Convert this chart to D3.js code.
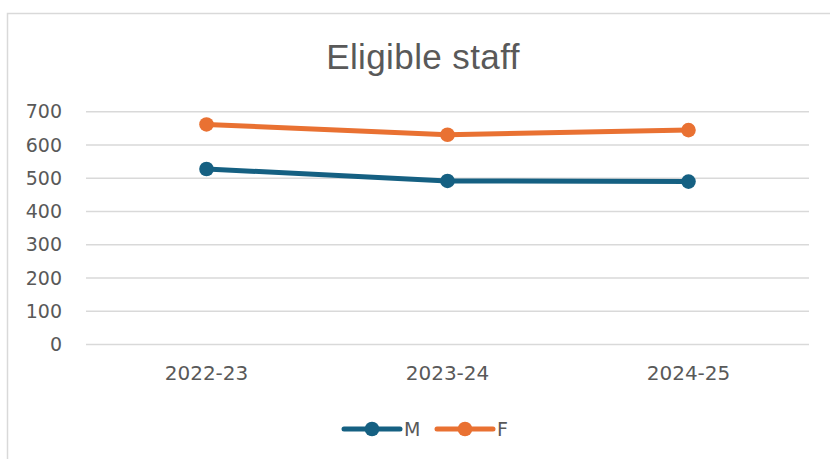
<!DOCTYPE html>
<html>
<head>
<meta charset="utf-8">
<script src="https://cdn.jsdelivr.net/npm/d3@7"></script>
<style>
  body { margin: 0; background: #fff; }
  svg { display: block; }
</style>
</head>
<body>
<svg id="chart" width="830" height="459"></svg>
<script>
const categories = ["2022-23", "2023-24", "2024-25"];
const seriesM = [528, 492, 490];
const seriesF = [662, 631, 645];
const yTicks = [0, 100, 200, 300, 400, 500, 600, 700];

const series = [
  { name: "M", values: seriesM, color: "#156082" },
  { name: "F", values: seriesF, color: "#e97132" }
];

const svg = d3.select("#chart");
const textColor = "#595959";
const gridColor = "#d9d9d9";

// chart frame (runs off the right and bottom edge)
svg.append("rect")
  .attr("x", 7.5).attr("y", 13.5)
  .attr("width", 900).attr("height", 500)
  .attr("fill", "#fff")
  .attr("stroke", gridColor)
  .attr("stroke-width", 1.5);

svg.append("text")
  .attr("x", 423).attr("y", 69)
  .attr("text-anchor", "middle")
  .attr("font-family", "Liberation Sans, Arial, sans-serif")
  .attr("font-size", 35)
  .attr("letter-spacing", 0.4)
  .attr("fill", textColor)
  .text("Eligible staff");

const x = d3.scaleBand().domain(categories).range([86, 809]);
const y = d3.scaleLinear().domain([0, 700]).range([344.5, 111.8]);

// gridlines
svg.append("g")
  .selectAll("line")
  .data(yTicks)
  .enter()
  .append("line")
  .attr("x1", 86).attr("x2", 809)
  .attr("y1", d => y(d)).attr("y2", d => y(d))
  .attr("stroke", gridColor)
  .attr("stroke-width", 1.5);

// y axis labels
const yAxis = svg.append("g")
  .attr("transform", "translate(62,0)")
  .call(d3.axisLeft(y).tickValues(yTicks).tickSize(0).tickPadding(0));
yAxis.select(".domain").remove();
yAxis.selectAll("text")
  .attr("font-family", "DejaVu Sans, sans-serif")
  .attr("font-size", 19)
  .attr("fill", textColor);

// x axis labels
const xAxis = svg.append("g")
  .attr("transform", "translate(0,366)")
  .call(d3.axisBottom(x).tickSize(0).tickPadding(0));
xAxis.select(".domain").remove();
xAxis.selectAll("text")
  .attr("font-family", "DejaVu Sans, sans-serif")
  .attr("font-size", 20)
  .attr("fill", textColor);

const line = d3.line()
  .x((d, i) => x(categories[i]) + x.bandwidth() / 2)
  .y(d => y(d));

series.forEach(s => {
  svg.append("path")
    .datum(s.values)
    .attr("d", line)
    .attr("fill", "none")
    .attr("stroke", s.color)
    .attr("stroke-width", 5)
    .attr("stroke-linecap", "round")
    .attr("stroke-linejoin", "round");

  svg.append("g")
    .selectAll("circle")
    .data(s.values)
    .enter()
    .append("circle")
    .attr("cx", (d, i) => x(categories[i]) + x.bandwidth() / 2)
    .attr("cy", d => y(d))
    .attr("r", 7.3)
    .attr("fill", s.color);
});

// legend
const legend = svg.append("g").attr("transform", "translate(344,429)");
series.forEach((s, i) => {
  const g = legend.append("g").attr("transform", `translate(${i * 93},0)`);
  g.append("line")
    .attr("x1", 0).attr("x2", 56)
    .attr("stroke", s.color)
    .attr("stroke-width", 5)
    .attr("stroke-linecap", "round");
  g.append("circle").attr("cx", 28).attr("r", 7.3).attr("fill", s.color);
  g.append("text")
    .attr("x", 60).attr("y", 7)
    .attr("font-family", "DejaVu Sans, sans-serif")
    .attr("font-size", 19)
    .attr("fill", textColor)
    .text(s.name);
});
</script>
</body>
</html>
